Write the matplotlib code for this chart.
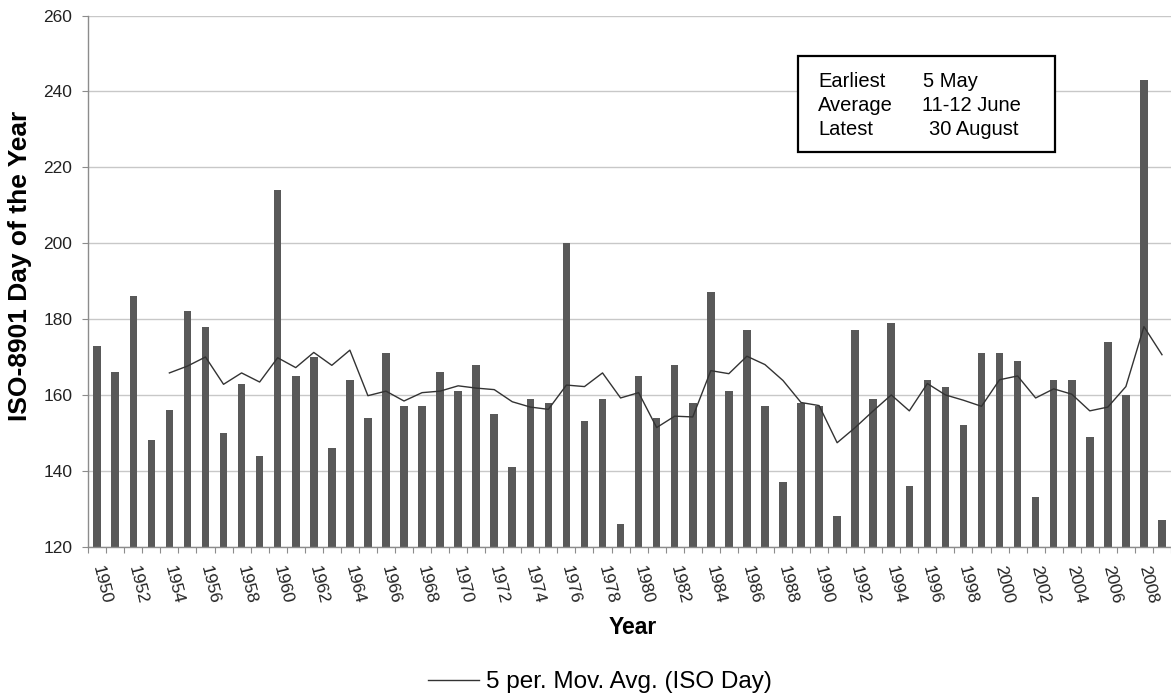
import matplotlib
matplotlib.use("Agg")
import matplotlib.pyplot as plt
from matplotlib.patches import Rectangle
import numpy as np
import pandas as pd

plt.rcParams['font.family'] = ['Liberation Sans', 'DejaVu Sans']

# ---- data ----
years = list(range(1950, 2010))
iso_day = [173, 166, 186, 148, 156, 182, 178, 150, 163, 144,
           214, 165, 170, 146, 164, 154, 171, 157, 157, 166,
           161, 168, 155, 141, 159, 158, 200, 153, 159, 126,
           165, 154, 168, 158, 187, 161, 177, 157, 137, 158,
           157, 128, 177, 159, 179, 136, 164, 162, 152, 171,
           171, 169, 133, 164, 164, 149, 174, 160, 243, 127]
ma_window = 5
ma_label = "5 per. Mov. Avg. (ISO Day)"
tick_years = list(range(1950, 2010, 2))
y_ticks = [120, 140, 160, 180, 200, 220, 240, 260]
box_labels = ["Earliest", "Average", "Latest"]
box_values = ["5 May", "11-12 June", "30 August"]
x_title = "Year"
y_title = "ISO-8901 Day of the Year"

moving_avg = pd.Series(iso_day).rolling(ma_window).mean().to_numpy()

W, H = 1171, 696
fig = plt.figure(figsize=(W / 100, H / 100), dpi=100)
ax = fig.add_axes([88 / W, 1 - 546.7 / H, (W - 88) / W, (546.7 - 15.5) / H])

x = np.arange(len(years))
ax.bar(x, iso_day, width=0.42, color="#595959", zorder=2)
line, = ax.plot(x, moving_avg, color="#333333", lw=1.0, zorder=3, label=ma_label)

ax.set_xlim(-0.51, 59.0)
ax.set_ylim(120, 260)
ax.set_yticks(y_ticks)
ax.yaxis.grid(True, color="#c8c8c8", lw=1.0, zorder=0)
ax.set_axisbelow(True)

for s in ["top", "right"]:
    ax.spines[s].set_visible(False)
for s in ["left", "bottom"]:
    ax.spines[s].set_color("#8c8c8c")
    ax.spines[s].set_linewidth(1.0)

ax.tick_params(axis="y", colors="#8c8c8c", length=4.3, width=0.8, pad=7,
               labelsize=12.5, labelcolor="#222222")

# x ticks: labels every 2 years, minor tick marks at category boundaries
ax.set_xticks([years.index(y) for y in tick_years])
ax.set_xticklabels([str(y) for y in tick_years], rotation=-76, ha="left",
                   va="center", rotation_mode="anchor")
ax.tick_params(axis="x", which="major", length=0, pad=14, labelsize=12.5,
               labelcolor="#222222")
ax.set_xticks(np.arange(-0.5, len(years), 1.0), minor=True)
ax.tick_params(axis="x", which="minor", length=4.3, width=0.8, colors="#8c8c8c")

fig.text(20 / W, 1 - 266 / H, y_title, rotation=90, ha="center", va="center",
         fontsize=19, fontweight="bold")
fig.text(633 / W, 1 - 628 / H, x_title, ha="center", va="center",
         fontsize=16.5, fontweight="bold")

fig.legend(handles=[line], labels=[ma_label], loc="center",
           bbox_to_anchor=(600 / W, 1 - 682 / H), frameon=False,
           fontsize=17.5, handlelength=2.1, handletextpad=0.3)

# info box
fig.patches.append(Rectangle((798 / W, 1 - 152 / H), (1055 - 798) / W, (152 - 56) / H,
                             transform=fig.transFigure, fill=True, facecolor="white",
                             edgecolor="black", lw=1.6, zorder=5))
row_base = [86.7, 110.7, 134.7]
val_x = [923, 921.7, 929.3]
for lab, val, yb, vx in zip(box_labels, box_values, row_base, val_x):
    fig.text(818 / W, 1 - yb / H, lab, ha="left", va="baseline", fontsize=14.5, zorder=6)
    fig.text(vx / W, 1 - yb / H, val, ha="left", va="baseline", fontsize=14.5, zorder=6)

fig.savefig("out.png", dpi=100)
